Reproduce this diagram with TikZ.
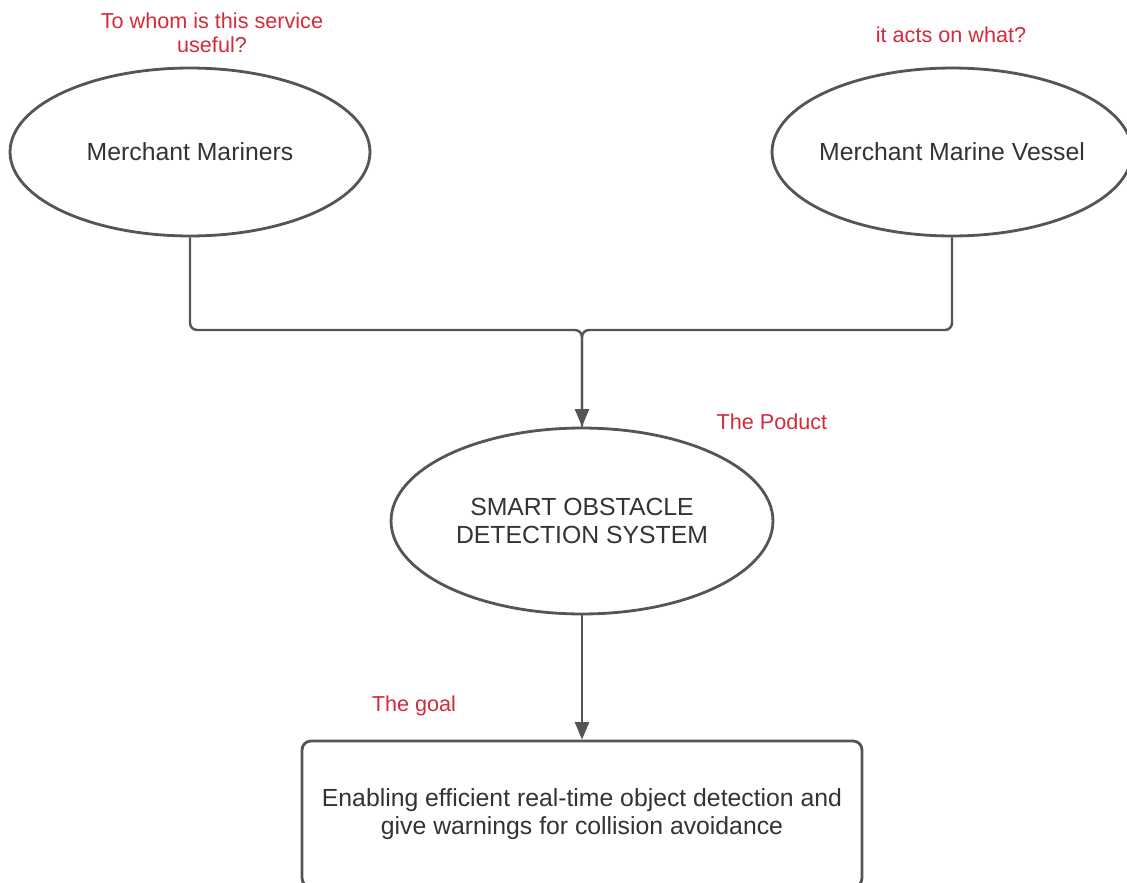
\documentclass[tikz,border=0pt]{standalone}
\usepackage{fontspec}
\setmainfont{Liberation Sans}
\usetikzlibrary{shapes.geometric,arrows.meta}
\definecolor{ink}{HTML}{333333}
\definecolor{edge}{HTML}{555555}
\definecolor{note}{HTML}{D42A3A}
\tikzset{
  oval/.style={ellipse, draw=edge, line width=1.6pt, text=ink, font=\fontsize{14.1}{15.9}\selectfont, align=center, inner sep=0pt},
  goalbox/.style={rectangle, rounded corners=5pt, draw=edge, line width=1.6pt, text=ink, font=\fontsize{14.1}{15.9}\selectfont, align=center},
  remark/.style={text=note, font=\fontsize{12.3}{13.6}\selectfont, align=center, inner sep=0pt},
  link/.style={draw=edge, line width=1.4pt, rounded corners=4pt},
  arrowlink/.style={link, -{Triangle[length=10pt,width=8pt]}}
}
\begin{document}
\begin{tikzpicture}[x=0.02cm,y=-0.02cm]
\useasboundingbox (0,0) rectangle (1127,883);
\clip (0,0) rectangle (1127,883);
\node[oval, minimum width=7.2cm, minimum height=3.36cm] (mm) at (190,152) {\makebox[3cm]{Merchant Mariners}};
\node[oval, minimum width=7.2cm, minimum height=3.36cm] (mv) at (952,152) {\makebox[3cm]{Merchant Marine Vessel}};
\node[oval, minimum width=7.64cm, minimum height=3.72cm] (sods) at (582,521) {SMART OBSTACLE\\DETECTION SYSTEM};
\node[goalbox, minimum width=11.2cm, minimum height=2.92cm] (goal) at (582,814) {Enabling efficient real-time object detection and\\give warnings for collision avoidance};
\coordinate (jl) at (190,330);
\coordinate (jr) at (952,330);
\coordinate (jm) at (582,330);
\draw[link] (mm.south) -- (jl) -- (jm) -- (sods.north);
\draw[arrowlink] (mv.south) -- (jr) -- (jm) -- (sods.north);
\draw[arrowlink] (sods.south) -- (goal.north);
\node[remark] (q1) at (212,33) {To whom is this service\\useful?};
\node[remark] (q2) at (951,35) {it acts on what?};
\node[remark] (q3) at (772,422) {The Poduct};
\node[remark] (q4) at (414,706) {The goal};
\end{tikzpicture}
\end{document}
